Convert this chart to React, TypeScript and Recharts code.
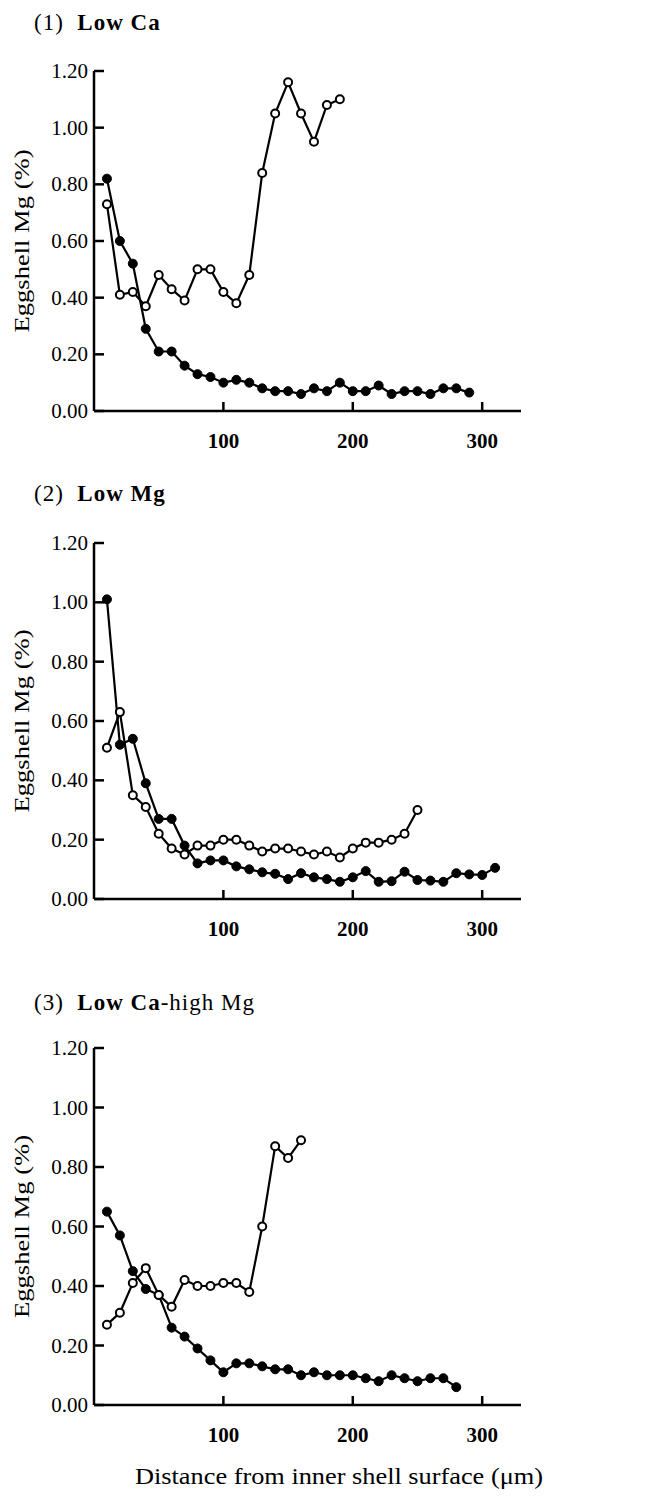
import React from 'react';
import { LineChart, Line, XAxis, YAxis } from 'recharts';

const FONT = '"Liberation Serif", "Times New Roman", serif';

// distance from inner shell surface (µm), one point every 10 µm
const distance = [
  10, 20, 30, 40, 50, 60, 70, 80, 90, 100, 110, 120, 130, 140, 150, 160,
  170, 180, 190, 200, 210, 220, 230, 240, 250, 260, 270, 280, 290, 300, 310,
];

// (1) Low Ca
const lowCaFilled = [
  0.82, 0.6, 0.52, 0.29, 0.21, 0.21, 0.16, 0.13, 0.12, 0.1, 0.11, 0.1, 0.08, 0.07, 0.07,
  0.06, 0.08, 0.07, 0.1, 0.07, 0.07, 0.09, 0.06, 0.07, 0.07, 0.06, 0.08, 0.08, 0.065,
];
const lowCaOpen = [
  0.73, 0.41, 0.42, 0.37, 0.48, 0.43, 0.39, 0.5, 0.5, 0.42, 0.38, 0.48, 0.84, 1.05, 1.16,
  1.05, 0.95, 1.08, 1.1,
];

// (2) Low Mg
const lowMgFilled = [
  1.01, 0.52, 0.54, 0.39, 0.27, 0.27, 0.18, 0.12, 0.13, 0.13, 0.11, 0.1, 0.09, 0.085, 0.067,
  0.087, 0.073, 0.067, 0.058, 0.073, 0.094, 0.058, 0.06, 0.092, 0.064, 0.062, 0.058, 0.087,
  0.083, 0.081, 0.105,
];
const lowMgOpen = [
  0.51, 0.63, 0.35, 0.31, 0.22, 0.17, 0.15, 0.18, 0.18, 0.2, 0.2, 0.18, 0.16, 0.17, 0.17,
  0.16, 0.15, 0.16, 0.14, 0.17, 0.19, 0.19, 0.2, 0.22, 0.3,
];

// (3) Low Ca-high Mg
const lowCaHighMgFilled = [
  0.65, 0.57, 0.45, 0.39, 0.37, 0.26, 0.23, 0.19, 0.15, 0.11, 0.14, 0.14, 0.13, 0.12, 0.12,
  0.1, 0.11, 0.1, 0.1, 0.1, 0.09, 0.08, 0.1, 0.09, 0.08, 0.09, 0.09, 0.06,
];
const lowCaHighMgOpen = [
  0.27, 0.31, 0.41, 0.46, 0.37, 0.33, 0.42, 0.4, 0.4, 0.41, 0.41, 0.38, 0.6, 0.87, 0.83, 0.89,
];

const yTicks = [0, 0.2, 0.4, 0.6, 0.8, 1.0, 1.2];
const xTicks = [100, 200, 300];

const buildRows = (filled: number[], open: number[]) => {
  const n = Math.max(filled.length, open.length);
  return distance.slice(0, n).map((x, i) => ({ x, filled: filled[i], open: open[i] }));
};

const YTick = (props: any) => {
  const { x, y, payload } = props;
  return (
    <g>
      <line x1={x + 6} x2={x + 16} y1={y} y2={y} stroke="#000" strokeWidth={2.5} />
      <text x={x} y={y} dy="0.34em" textAnchor="end" fontSize={21} fontFamily={FONT} fill="#000">
        {Number(payload.value).toFixed(2)}
      </text>
    </g>
  );
};

const XTick = (props: any) => {
  const { x, y, payload } = props;
  return (
    <g>
      <line x1={x} x2={x} y1={y} y2={y - 9} stroke="#000" strokeWidth={2.5} />
      <text x={x} y={y + 37} textAnchor="middle" fontSize={21} fontWeight="bold" fontFamily={FONT} fill="#000">
        {payload.value}
      </text>
    </g>
  );
};

const Panel = ({ title, filled, open, top, marginTop, plotH, xLabel }: any) => {
  const axisH = xLabel ? 90 : 60;
  const height = marginTop + plotH + axisH;
  const cy = marginTop + plotH / 2;
  const data = buildRows(filled, open);
  return (
    <div style={{ position: 'absolute', left: 0, top, width: 648, height }}>
      <div
        style={{
          position: 'absolute', left: 34, top: title.top, fontSize: 23, lineHeight: '23px',
          letterSpacing: 1, fontFamily: FONT, color: '#000', whiteSpace: 'nowrap', zIndex: 1,
        }}
      >
        {title.content}
      </div>
      <LineChart width={648} height={height} data={data} margin={{ top: marginTop, right: 127, bottom: 0, left: 0 }}>
        <XAxis
          dataKey="x"
          type="number"
          domain={[0, 330]}
          ticks={xTicks}
          tick={<XTick />}
          tickSize={0}
          tickMargin={0}
          height={axisH}
          axisLine={{ stroke: '#000', strokeWidth: 2.5 }}
          tickLine={false}
          label={
            xLabel
              ? () => (
                  <text
                    x={135}
                    y={marginTop + plotH + 79}
                    textAnchor="start"
                    fontSize={23}
                    fontFamily={FONT}
                    fill="#000"
                    textLength={408}
                    lengthAdjust="spacingAndGlyphs"
                  >
                    Distance from inner shell surface (μm)
                  </text>
                )
              : undefined
          }
        />
        <YAxis
          type="number"
          domain={[0, 1.2]}
          ticks={yTicks}
          tick={<YTick />}
          tickSize={0}
          tickMargin={6}
          width={94}
          axisLine={{ stroke: '#000', strokeWidth: 2.5 }}
          tickLine={false}
          label={() => (
            <text
              x={22}
              y={cy}
              transform={`rotate(-90 22 ${cy})`}
              textAnchor="middle"
              dominantBaseline="central"
              fontSize={21}
              fontFamily={FONT}
              fill="#000"
              textLength={183}
              lengthAdjust="spacingAndGlyphs"
            >
              Eggshell Mg (%)
            </text>
          )}
        />
        <Line
          dataKey="filled"
          type="linear"
          stroke="#000"
          strokeWidth={2.2}
          dot={{ r: 4.5, fill: '#000', stroke: '#000', strokeWidth: 1 }}
          isAnimationActive={false}
        />
        <Line
          dataKey="open"
          type="linear"
          stroke="#000"
          strokeWidth={2.2}
          dot={{ r: 4, fill: '#fff', stroke: '#000', strokeWidth: 2 }}
          isAnimationActive={false}
        />
      </LineChart>
    </div>
  );
};

export default function App() {
  return (
    <div style={{ position: 'relative', width: 648, height: 1499, margin: '-8px 0 0 -8px', background: '#fff' }}>
      <Panel
        top={0}
        marginTop={71}
        plotH={340}
        filled={lowCaFilled}
        open={lowCaOpen}
        title={{ top: 11, content: <>(1)&nbsp; <b>Low Ca</b></> }}
      />
      <Panel
        top={480}
        marginTop={63}
        plotH={356}
        filled={lowMgFilled}
        open={lowMgOpen}
        title={{ top: 2, content: <>(2)&nbsp; <b>Low Mg</b></> }}
      />
      <Panel
        top={980}
        marginTop={68}
        plotH={357}
        filled={lowCaHighMgFilled}
        open={lowCaHighMgOpen}
        xLabel
        title={{ top: 11, content: <>(3)&nbsp; <b>Low Ca</b>-high Mg</> }}
      />
    </div>
  );
}
